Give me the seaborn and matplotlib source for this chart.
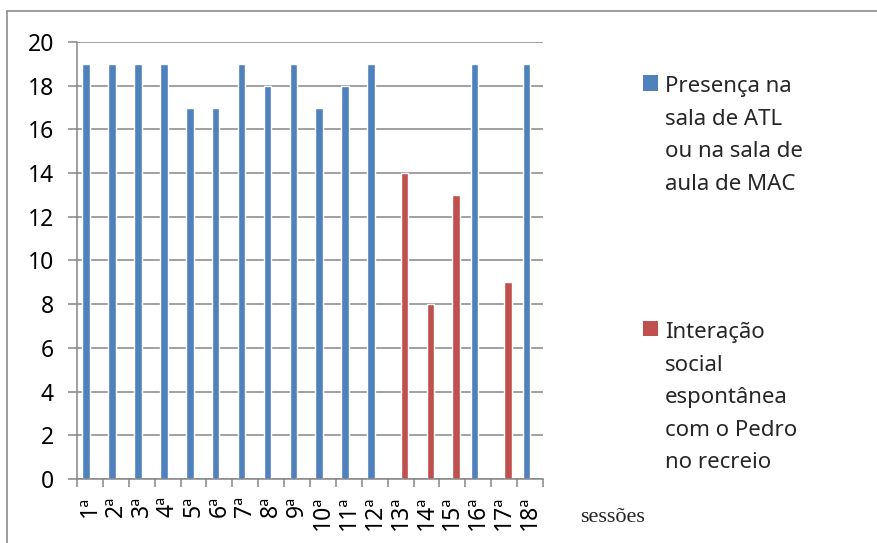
import pandas as pd
import matplotlib.pyplot as plt
import seaborn as sns
from matplotlib.lines import Line2D
from matplotlib.patches import Patch, Rectangle
from matplotlib.legend_handler import HandlerPatch
from matplotlib.ticker import FixedLocator

# dados
sessoes = [f"{i}ª" for i in range(1, 19)]
series = ["Presença na\nsala de ATL\nou na sala de\naula de MAC",
          "Interação\nsocial\nespontânea\ncom o Pedro\nno recreio"]
cores = ["#4F81BD", "#C0504D"]

presenca_sessoes = ["1ª", "2ª", "3ª", "4ª", "5ª", "6ª", "7ª", "8ª", "9ª",
                    "10ª", "11ª", "12ª", "16ª", "18ª"]
presenca_valores = [19, 19, 19, 19, 17, 17, 19, 18, 19, 17, 18, 19, 19, 19]
interacao_sessoes = ["13ª", "14ª", "15ª", "17ª"]
interacao_valores = [14, 8, 13, 9]

df = pd.concat([
    pd.DataFrame({"sessao": presenca_sessoes, "valor": presenca_valores, "serie": series[0]}),
    pd.DataFrame({"sessao": interacao_sessoes, "valor": interacao_valores, "serie": series[1]}),
])

sns.set_style("white")
plt.rcParams["font.family"] = ["Noto Sans", "DejaVu Sans"]

fig = plt.figure(figsize=(8.77, 5.43), dpi=100)
ax = fig.add_axes([77 / 877, 1 - 479 / 543, (543 - 77) / 877, (479 - 42) / 543])

sns.barplot(data=df, x="sessao", y="valor", hue="serie", order=sessoes,
            hue_order=series, palette=cores, width=0.58, dodge=True,
            saturation=1, legend=False, ax=ax)

ax.set_ylim(0, 20)
ax.set_xlim(-0.5, 17.5)
ax.set_yticks(range(0, 21, 2))
ax.yaxis.grid(True, color="#868686", linewidth=1.1)
ax.set_axisbelow(True)
for s in ["top", "right"]:
    ax.spines[s].set_visible(False)
for s in ["left", "bottom"]:
    ax.spines[s].set_color("#868686")
    ax.spines[s].set_linewidth(1.1)

ax.tick_params(axis="y", length=6.5, width=1.1, color="#868686", pad=10,
               labelsize=16.5, labelcolor="black", left=True)
ax.xaxis.set_minor_locator(FixedLocator([i - 0.5 for i in range(19)]))
ax.tick_params(axis="x", which="minor", length=5.5, width=1.1, color="#868686", bottom=True)
ax.tick_params(axis="x", which="major", length=0, pad=12, labelsize=16.5,
               labelcolor="black", labelrotation=90)
for t in ax.get_xticklabels():
    t.set_va("top")
ax.set_xlabel("")
ax.set_ylabel("")

fig.text(580 / 877, 1 - 517 / 543, "sessões", fontsize=16,
         family="Liberation Serif", va="center", ha="left")

# legenda: quadrado alinhado com a primeira linha do texto
leg_fs = 16
leg_ls = 1.72


def quadrado(legend, orig_handle, xdescent, ydescent, width, height, fontsize):
    n = len(orig_handle.get_label().split("\n"))
    desloc = (n - 1) * leg_ls * fontsize * 0.914 / 2
    return Rectangle((-xdescent, -ydescent + desloc), width, height)


handles = [Patch(facecolor=c, edgecolor="none", label=s) for c, s in zip(cores, series)]
leg = fig.legend(handles=handles, loc="upper left", bbox_to_anchor=(643 / 877, 1 - 76 / 543),
                 frameon=False, fontsize=leg_fs, handlelength=0.68, handleheight=0.68,
                 handletextpad=0.3, labelspacing=5.75, borderpad=0, borderaxespad=0,
                 handler_map={Patch: HandlerPatch(patch_func=quadrado)})
for t in leg.get_texts():
    t.set_linespacing(leg_ls)

# moldura exterior
fig.add_artist(Line2D([7 / 877, 1], [1 - 11 / 543, 1 - 11 / 543], color="#8c8c8c", linewidth=1.2))
fig.add_artist(Line2D([7 / 877, 7 / 877], [0, 1 - 11 / 543], color="#8c8c8c", linewidth=1.2))

plt.savefig("out.png", dpi=100)
